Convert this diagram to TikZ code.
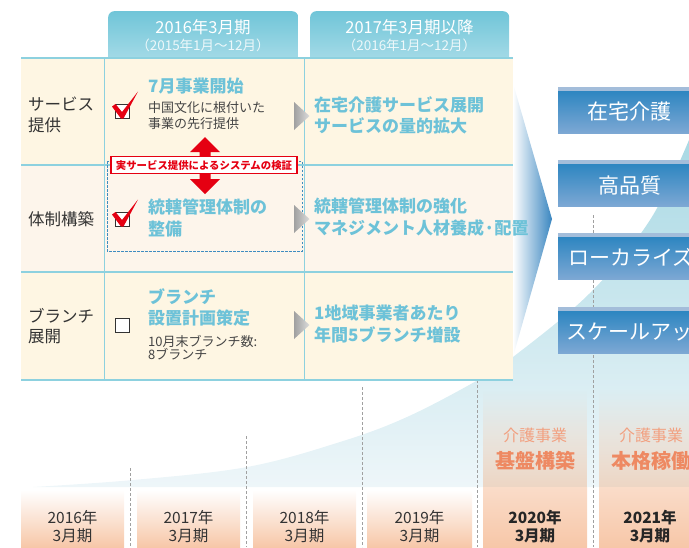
\documentclass[tikz,border=0pt]{standalone}
\usepackage{fontspec}
\setmainfont{Noto Sans CJK JP}
\usetikzlibrary{fadings}
\newcommand{\myfs}[1]{\fontsize{#1}{#1}\selectfont}
\definecolor{tabTop}{HTML}{70C5D8}
\definecolor{tabBot}{HTML}{A8DCE8}
\definecolor{tline}{HTML}{8DD1DF}
\definecolor{creamA}{HTML}{FEF6E3}
\definecolor{creamB}{HTML}{FDF5EB}
\definecolor{blueT}{HTML}{6DC2D8}
\definecolor{darkT}{HTML}{333333}
\definecolor{subT}{HTML}{444444}
\definecolor{redC}{HTML}{E50012}
\definecolor{dashB}{HTML}{3F8CC0}
\definecolor{boxTop}{HTML}{2E86C1}
\definecolor{boxBot}{HTML}{7DA8D4}
\definecolor{boxStrip}{HTML}{A3BDDA}
\definecolor{chevB}{HTML}{3A86C0}
\definecolor{curveTop}{HTML}{A9D9E4}
\definecolor{curveBot}{HTML}{EEF6F9}
\definecolor{peach}{HTML}{F7C7A8}
\definecolor{peachL}{HTML}{FADCC9}
\definecolor{tint}{HTML}{EDD6C4}
\definecolor{salL}{HTML}{F2A080}
\definecolor{salB}{HTML}{EE8962}
\definecolor{dashG}{HTML}{A0A0A0}
\definecolor{triL}{HTML}{A0A0A0}
\definecolor{triR}{HTML}{DCDCDC}
\tikzset{
  tx/.style={inner sep=0pt, anchor=base west},
  lab/.style={tx, text=darkT, font=\myfs{16.5}},
  btl/.style={tx, text=blueT, font=\bfseries\myfs{17}},
  sub/.style={tx, text=subT, font=\myfs{13}},
  hdr/.style={inner sep=0pt, anchor=base, text=white, font=\myfs{16.5}},
  hdrs/.style={inner sep=0pt, anchor=base, text=white!88!tabTop, font=\myfs{13.5}},
  yr/.style={inner sep=0pt, anchor=base, text=darkT, font=\myfs{15.5}},
  yrb/.style={inner sep=0pt, anchor=base, text=black!85, font=\bfseries\myfs{15.5}},
  kz/.style={inner sep=0pt, anchor=base, text=salL, font=\myfs{16}},
  kzb/.style={inner sep=0pt, anchor=base, text=salB, font=\bfseries\myfs{20}},
  rb/.style={inner sep=0pt, anchor=base west, text=white, font=\myfs{21}},
  tab/.style={rectangle, rounded corners=6pt, anchor=north west, top color=tabTop, bottom color=tabBot, minimum height=52pt, inner sep=0pt},
  bluebox/.style={rectangle, inner sep=0pt, minimum width=150pt, minimum height=42pt, anchor=north west, top color=boxTop, bottom color=boxBot},
  gline/.style={dashG, line width=0.8pt, dash pattern=on 3pt off 2pt},
  tri/.style={left color=triL, right color=triR},
  cbox/.style={draw=darkT, line width=0.8pt, fill=white},
}
\begin{document}
\begin{tikzpicture}[x=1pt,y=-1pt]
\path[use as bounding box] (0,0) rectangle (689,547);
\clip (0,0) rectangle (689,547);
% background curve
\shade[top color=curveTop, bottom color=curveBot]
  plot[smooth, tension=0.6] coordinates {(33,487) (133,480) (247,467) (340,442) (407,417) (478,380) (513,357) (590,293) (650,220) (689,140)}
  -- (689,487) -- (33,487) -- cycle;
% dashed guide lines
\draw[gline] (130,468) -- (130,547);
\draw[gline] (246,436) -- (246,547);
\draw[gline] (362,387) -- (362,547);
\draw[gline] (477,380) -- (477,547);
\draw[gline] (593,215) -- (593,547);
% tinted columns
\fill[tint, path fading=north] (483,390) rectangle (587,487);
\fill[tint, path fading=north] (599,390) rectangle (700,487);
% year boxes
\shade[top color=white, bottom color=peach] (21,490) rectangle (124,547);
\shade[top color=white, bottom color=peach] (137,490) rectangle (240,547);
\shade[top color=white, bottom color=peach] (253,490) rectangle (356,547);
\shade[top color=white, bottom color=peach] (367,490) rectangle (472,547);
\shade[top color=peachL, bottom color=peach] (483,487) rectangle (587,547);
\shade[top color=peachL, bottom color=peach] (599,487) rectangle (700,547);
% chevron
\shade[left color=white, right color=chevB] (513,83) -- (552,219) -- (513,357) -- cycle;
% right boxes
\foreach \yy/\nm in {87/b1,160/b2,233/b3,307/b4}{
  \fill[boxStrip] (558,\yy) rectangle (700,\yy+4);
  \node[bluebox] (\nm) at (558,\yy+4) {};
}
\node[rb] (b1t) at (587,119) {在宅介護};
\node[rb] (b2t) at (598,193) {高品質};
\node[rb] (b3t) at (568,265) {ローカライズ};
\node[rb] (b4t) at (566,339) {スケールアップ};
% header tabs
\node[tab, minimum width=190pt] (h1) at (108,11) {};
\node[tab, minimum width=199pt] (h2) at (310,11) {};
\node[hdr] (h1a) at (203,33) {2016年3月期};
\node[hdrs] (h1b) at (203,50.5) {（2015年1月～12月）};
\node[hdr] (h2a) at (409.5,33) {2017年3月期以降};
\node[hdrs] (h2b) at (409.5,50.5) {（2016年1月～12月）};
% table
\fill[creamA] (21,58) rectangle (513,165);
\fill[creamB] (21,165) rectangle (513,272);
\fill[creamA] (21,272) rectangle (513,380);
\draw[tline, line width=1pt] (104,58) -- (104,380);
\draw[tline, line width=1pt] (304,58) -- (304,380);
\foreach \yy in {58,165,272,380}{
  \draw[tline, line width=1.8pt] (21,\yy) -- (513,\yy);
}
% dashed blue box
\draw[dashB, line width=0.8pt, dash pattern=on 2.5pt off 1.5pt] (107,161) rectangle (302,251);
% checkboxes and checks
\draw[cbox] (115,104) rectangle (129,118);
\fill[redC] (112,106.5) -- (115.5,104) -- (122,112) -- (138,91.5) -- (123.5,118.5) -- (121,118.5) -- cycle;
\draw[cbox] (115,212) rectangle (129,226);
\fill[redC] (112,214.5) -- (115.5,212) -- (122,220) -- (138,199.5) -- (123.5,226.5) -- (121,226.5) -- cycle;
\draw[cbox] (115,318) rectangle (129,332);
% red double arrow
\fill[redC] (205,137) -- (220,152) -- (210.5,152) -- (210.5,179) -- (220,179) -- (205,194)
  -- (190,179) -- (199.5,179) -- (199.5,152) -- (190,152) -- cycle;
\node[draw=redC, line width=1.2pt, fill=white, inner sep=0pt, minimum width=186pt, minimum height=17pt,
  text=redC, font=\bfseries\myfs{10.4}] (vlabel) at (204,165) {実サービス提供によるシステムの検証};
% grey triangles
\shade[tri] (294,102) -- (309.5,116) -- (294,130) -- cycle;
\shade[tri] (294,205) -- (309.5,219) -- (294,233) -- cycle;
\shade[tri] (294,311) -- (309.5,325) -- (294,339) -- cycle;
% row labels
\node[lab] (l1a) at (28,110.3) {サービス};
\node[lab] (l1b) at (28,131.3) {提供};
\node[lab] (l2a) at (28,225.3) {体制構築};
\node[lab] (l3a) at (28,322.3) {ブランチ};
\node[lab] (l3b) at (28,342.3) {展開};
% column 2
\node[btl] (c1a) at (148,92.5) {7月事業開始};
\node[sub] (c1b) at (148,112) {中国文化に根付いた};
\node[sub] (c1c) at (148,128) {事業の先行提供};
\node[btl] (c2a) at (148,213.5) {統轄管理体制の};
\node[btl] (c2b) at (148,235.5) {整備};
\node[btl] (c3a) at (148,303.5) {ブランチ};
\node[btl] (c3b) at (148,324.5) {設置計画策定};
\node[sub] (c3c) at (148,346) {10月末ブランチ数:};
\node[sub] (c3d) at (148,359) {8ブランチ};
% column 3
\node[btl] (d1a) at (314,111) {在宅介護サービス展開};
\node[btl] (d1b) at (314,132) {サービスの量的拡大};
\node[btl] (d2a) at (314,212.5) {統轄管理体制の強化};
\node[btl] (d2b) at (314,234.5) {マネジメント人材養成·配置};
\node[btl] (d3a) at (314,319.5) {1地域事業者あたり};
\node[btl] (d3b) at (314,341.5) {年間5ブランチ増設};
% phase labels
\node[kz] (k1a) at (535,441.5) {介護事業};
\node[kzb] (k1b) at (535,468.6) {基盤構築};
\node[kz] (k2a) at (651,441.5) {介護事業};
\node[kzb] (k2b) at (651,468.6) {本格稼働};
% years
\node[yr] (y1a) at (72.5,523) {2016年};
\node[yr] (y1b) at (72.5,541) {3月期};
\node[yr] (y2a) at (188.5,523) {2017年};
\node[yr] (y2b) at (188.5,541) {3月期};
\node[yr] (y3a) at (304.5,523) {2018年};
\node[yr] (y3b) at (304.5,541) {3月期};
\node[yr] (y4a) at (419.5,523) {2019年};
\node[yr] (y4b) at (419.5,541) {3月期};
\node[yrb] (y5a) at (535,523) {2020年};
\node[yrb] (y5b) at (535,541) {3月期};
\node[yrb] (y6a) at (650,523) {2021年};
\node[yrb] (y6b) at (650,541) {3月期};
\end{tikzpicture}
\end{document}
